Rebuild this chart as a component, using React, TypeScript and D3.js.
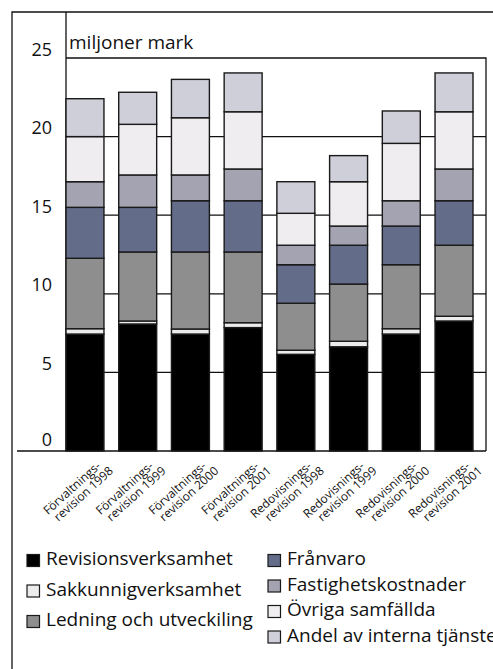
import React, { useEffect, useRef } from 'react';
import * as d3 from 'd3';

// category labels (two lines each)
const categoryTop = ['Förvaltnings-', 'Förvaltnings-', 'Förvaltnings-', 'Förvaltnings-', 'Redovisnings-', 'Redovisnings-', 'Redovisnings-', 'Redovisnings-'];
const categoryBottom = ['revision 1998', 'revision 1999', 'revision 2000', 'revision 2001', 'revision 1998', 'revision 1999', 'revision 2000', 'revision 2001'];

// series values, miljoner mark, bottom to top
const revisionsverksamhet = [7.44, 8.08, 7.44, 7.85, 6.15, 6.63, 7.44, 8.27];
const sakkunnigverksamhet = [0.34, 0.19, 0.32, 0.31, 0.26, 0.35, 0.34, 0.3];
const ledning = [4.48, 4.39, 4.9, 4.5, 2.99, 3.64, 4.07, 4.52];
const franvaro = [3.24, 2.84, 3.26, 3.26, 2.45, 2.47, 2.46, 2.83];
const fastighetskostnader = [1.63, 2.06, 1.64, 2.02, 1.24, 1.22, 1.61, 2.02];
const ovrigaSamfallda = [2.87, 3.22, 3.64, 3.64, 2.03, 2.82, 3.65, 3.64];
const andelInterna = [2.41, 2.04, 2.44, 2.47, 2.01, 1.66, 2.06, 2.47];

const seriesNames = ['Revisionsverksamhet', 'Sakkunnigverksamhet', 'Ledning och utveckiling', 'Frånvaro', 'Fastighetskostnader', 'Övriga samfällda', 'Andel av interna tjänster'];
const seriesValues = [revisionsverksamhet, sakkunnigverksamhet, ledning, franvaro, fastighetskostnader, ovrigaSamfallda, andelInterna];
const seriesColors = ['#000000', '#ececec', '#8e8e8e', '#636c88', '#a3a3b2', '#efedf0', '#cfcfda'];

const yTicks = [0, 5, 10, 15, 20, 25];

const FONT = "'Open Sans', sans-serif";

const App = () => {
  const chartRef = useRef<HTMLDivElement>(null);

  useEffect(() => {
    document.body.style.margin = '0';
    if (chartRef.current) drawChart();
  }, []);

  const drawChart = () => {
    d3.select(chartRef.current).selectAll('*').remove();

    const width = 493;
    const height = 669;
    const plot = { left: 66, right: 486, top: 58, bottom: 451 };

    const svg = d3.select(chartRef.current)
      .append('svg')
      .attr('width', width)
      .attr('height', height)
      .style('display', 'block')
      .style('font-family', FONT);

    const rows = categoryTop.map((_, i) => {
      const r: any = { key: String(i) };
      seriesNames.forEach((name, s) => { r[name] = seriesValues[s][i]; });
      return r;
    });

    const x = d3.scaleBand()
      .domain(rows.map(r => r.key))
      .range([plot.left, 473])
      .paddingInner(0.28)
      .paddingOuter(0);

    const y = d3.scaleLinear().domain([0, 25]).range([plot.bottom, plot.top]);

    // outer frame
    svg.append('path')
      .attr('d', `M12,${height} V12 H${width}`)
      .attr('fill', 'none')
      .attr('stroke', '#111')
      .attr('stroke-width', 1.3);

    // gridlines
    svg.append('g')
      .selectAll('line')
      .data(yTicks.filter(t => t > 0 && t < 25))
      .enter()
      .append('line')
      .attr('x1', plot.left)
      .attr('x2', plot.right)
      .attr('y1', d => y(d))
      .attr('y2', d => y(d))
      .attr('stroke', '#111')
      .attr('stroke-width', 1.3);

    // plot box
    svg.append('path')
      .attr('d', `M${plot.left},12 V${plot.bottom} M${plot.left},${y(25)} H${plot.right} V${plot.bottom} M17,${plot.bottom} H${plot.right}`)
      .attr('fill', 'none')
      .attr('stroke', '#111')
      .attr('stroke-width', 1.3);

    // y tick labels
    svg.append('g')
      .selectAll('text')
      .data(yTicks)
      .enter()
      .append('text')
      .attr('x', 52)
      .attr('y', d => y(d) - (d === 0 ? 5 : 2.5))
      .attr('text-anchor', 'end')
      .style('font-size', '18px')
      .attr('fill', '#111')
      .text(d => d);

    svg.append('text')
      .attr('x', 69)
      .attr('y', 49)
      .style('font-size', '19px')
      .attr('fill', '#111')
      .text('miljoner mark');

    // stacked bars
    const stacked = d3.stack<any>().keys(seriesNames)(rows);

    svg.append('g')
      .selectAll('g')
      .data(stacked)
      .enter()
      .append('g')
      .attr('fill', (_, i) => seriesColors[i])
      .selectAll('rect')
      .data(d => d)
      .enter()
      .append('rect')
      .attr('x', d => x(d.data.key) || 0)
      .attr('width', x.bandwidth())
      .attr('y', d => y(d[1]))
      .attr('height', d => y(d[0]) - y(d[1]))
      .attr('stroke', '#1a1a1a')
      .attr('stroke-width', 1.4);

    // category labels
    const labels = svg.append('g')
      .selectAll('g')
      .data(rows)
      .enter()
      .append('g')
      .attr('transform', d => `translate(${(x(d.key) || 0) + x.bandwidth() / 2 + 29},472) rotate(-42)`)
      .style('font-size', '12px')
      .attr('fill', '#111');

    labels.append('text')
      .attr('text-anchor', 'end')
      .attr('x', -6)
      .attr('y', -12)
      .text((_, i) => categoryTop[i]);

    labels.append('text')
      .attr('text-anchor', 'end')
      .attr('x', 0)
      .attr('y', 0)
      .text((_, i) => categoryBottom[i]);

    // legend
    const legendItems = seriesNames.map((name, i) => ({
      name,
      color: seriesColors[i],
      col: i < 3 ? 0 : 1,
      row: i < 3 ? i : i - 3,
    }));

    const legend = svg.append('g')
      .selectAll('g')
      .data(legendItems)
      .enter()
      .append('g')
      .attr('transform', d => d.col === 0
        ? `translate(27,${565 + d.row * 30.5})`
        : `translate(268,${565 + d.row * 25.5})`);

    legend.append('rect')
      .attr('x', 0)
      .attr('y', -10.5)
      .attr('width', 12.5)
      .attr('height', 12)
      .attr('fill', d => d.color)
      .attr('stroke', '#1a1a1a')
      .attr('stroke-width', 1.2);

    legend.append('text')
      .attr('x', 19)
      .attr('y', 0)
      .style('font-size', '19px')
      .attr('fill', '#111')
      .text(d => d.name);
  };

  return <div ref={chartRef}></div>;
};

export default App;
